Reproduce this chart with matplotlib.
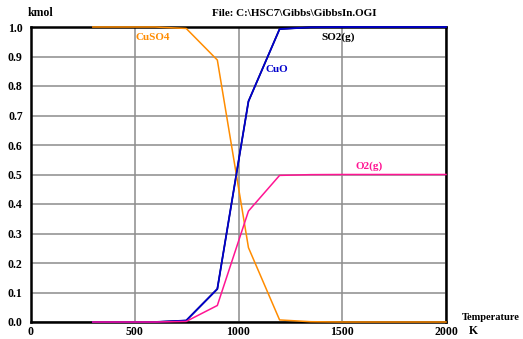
import matplotlib
matplotlib.use("Agg")
import matplotlib.pyplot as plt

T = [298, 448, 598, 748, 898, 1048, 1198, 1348, 1498, 1648, 1798, 1948, 2000]
CuSO4 = [1.0, 1.0, 1.0, 0.995, 0.888, 0.252, 0.007, 0.001, 0.0, 0.0, 0.0, 0.0, 0.0]
CuO = [0.0, 0.0, 0.0, 0.005, 0.112, 0.748, 0.993, 0.999, 1.0, 1.0, 1.0, 1.0, 1.0]
SO2 = [0.0, 0.0, 0.0, 0.005, 0.112, 0.748, 0.993, 0.999, 1.0, 1.0, 1.0, 1.0, 1.0]
O2 = [0.0, 0.0, 0.0, 0.002, 0.056, 0.376, 0.497, 0.4995, 0.5, 0.5, 0.5, 0.5, 0.5]

xticks = [0, 500, 1000, 1500, 2000]
yticks = [0.0, 0.1, 0.2, 0.3, 0.4, 0.5, 0.6, 0.7, 0.8, 0.9, 1.0]

plt.rcParams['font.family'] = ['Liberation Serif', 'DejaVu Serif']
plt.rcParams['font.weight'] = 'bold'
FS = 8.5

fig = plt.figure(figsize=(5.23, 3.39), dpi=100)
ax = fig.add_axes([31/523, 1-322/339, (446-31)/523, (322-27)/339])
ax.set_xlim(0, 2000)
ax.set_ylim(0, 1.0)
ax.set_xticks(xticks)
ax.set_yticks(yticks)
ax.set_xticklabels([str(v) for v in xticks], fontsize=FS, fontweight='bold')
ax.set_yticklabels([f"{v:.1f}" for v in yticks], fontsize=FS, fontweight='bold')
ax.tick_params(axis='x', length=0, pad=3)
ax.tick_params(axis='y', length=0, pad=6)
ax.grid(True, color='#8c8c8c', linewidth=1.1)
ax.set_axisbelow(True)
for s in ax.spines.values():
    s.set_linewidth(1.8)
    s.set_color('black')

c_or = '#FF8C00'
c_bl = '#0000CC'
c_pk = '#FF1493'
ax.plot(T, SO2, color='black', lw=1.1, clip_on=False, zorder=3)
ax.plot(T, CuSO4, color=c_or, lw=1.1, clip_on=False, zorder=4)
ax.plot(T, CuO, color=c_bl, lw=1.3, clip_on=False, zorder=5)
ax.plot(T, O2, color=c_pk, lw=1.1, clip_on=False, zorder=6)

def px(x, y, s, color='black', ha='left', va='center', fs=FS):
    fig.text(x/523, 1-y/339, s, fontsize=fs, fontweight='bold', color=color, ha=ha, va=va)

px(135, 37, 'CuSO4', c_or, fs=8)
px(265, 69, 'CuO', c_bl, fs=8)
px(321, 37, 'SO2(g)', 'black', fs=8)
px(355, 166, 'O2(g)', c_pk, fs=8)
px(28, 13, 'kmol')
px(212, 13, 'File: C:\\HSC7\\Gibbs\\GibbsIn.OGI', fs=8)
px(462, 317, 'Temperature', fs=7.6)
px(469, 331, 'K')

fig.savefig('out.png', dpi=100)
